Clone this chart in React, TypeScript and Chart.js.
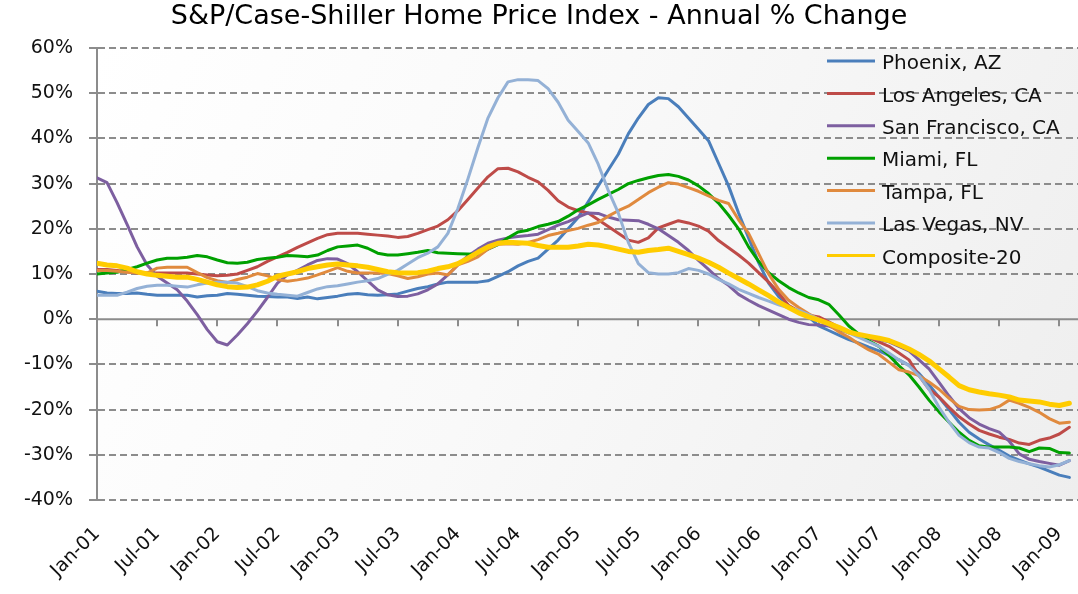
import React, { useEffect, useRef } from 'react';
import { Chart, registerables } from 'chart.js';

Chart.register(...registerables);

const monthNames = ['Jan', 'Feb', 'Mar', 'Apr', 'May', 'Jun', 'Jul', 'Aug', 'Sep', 'Oct', 'Nov', 'Dec'];
const yearCodes = ['01', '02', '03', '04', '05', '06', '07', '08', '09'];
// Monthly categories Jan-01 .. Feb-09
const categories: string[] = yearCodes.flatMap((y) => monthNames.map((m) => `${m}-${y}`)).slice(0, 98);

const tickLabels = [
  'Jan-01', 'Jul-01', 'Jan-02', 'Jul-02', 'Jan-03', 'Jul-03', 'Jan-04', 'Jul-04', 'Jan-05',
  'Jul-05', 'Jan-06', 'Jul-06', 'Jan-07', 'Jul-07', 'Jan-08', 'Jul-08', 'Jan-09',
];

const phoenix = [
  6.2, 5.8, 5.7, 5.7, 5.8, 5.5, 5.3, 5.3, 5.3, 5.3, 4.9, 5.2,
  5.3, 5.7, 5.5, 5.3, 5.1, 5.0, 4.9, 4.9, 4.6, 4.9, 4.5, 4.8,
  5.1, 5.5, 5.7, 5.4, 5.3, 5.4, 5.6, 6.2, 6.8, 7.2, 7.8, 8.2,
  8.2, 8.2, 8.2, 8.5, 9.5, 10.5, 11.8, 12.8, 13.5, 15.5, 17.5, 20.0,
  22.5, 26.0, 29.5, 33.0, 36.5, 41.0, 44.5, 47.5, 49.0, 48.8, 47.0, 44.5,
  42.0, 39.5, 34.5, 29.5, 23.5, 18.0, 12.5, 8.0, 5.0, 3.0, 1.5, 0.5,
  -1.5, -2.5, -3.5, -4.5, -5.3, -6.2, -7.0, -8.0, -9.0, -10.2, -12.0, -14.5,
  -17.3, -20.0, -22.8, -25.0, -26.5, -27.8, -29.0, -30.3, -31.2, -32.0, -32.7, -33.6,
  -34.5, -35.0,
];

const losAngeles = [
  11.0, 11.0, 10.8, 10.5, 10.2, 10.2, 10.2, 10.2, 10.2, 10.2, 10.0, 9.8,
  9.6, 9.7, 10.0, 10.8, 11.6, 12.8, 13.8, 14.8, 15.9, 16.9, 17.9, 18.7,
  19.0, 19.0, 19.0, 18.8, 18.6, 18.4, 18.1, 18.3, 19.0, 19.8, 20.6, 22.0,
  24.0, 26.5, 29.0, 31.5, 33.3, 33.4, 32.6, 31.4, 30.4, 28.5, 26.2, 24.8,
  24.0, 23.5, 22.0, 20.5, 19.0, 17.5, 17.0, 18.0, 20.2, 21.0, 21.8, 21.3,
  20.6, 19.5, 17.4, 15.8, 14.2, 12.4, 10.3, 8.2, 5.8, 3.0, 1.8, 0.9,
  0.5, -0.6, -1.8, -3.0, -3.6, -4.1, -5.0, -6.0, -7.5, -9.0, -12.5, -15.5,
  -17.2, -19.5, -21.6, -23.2, -24.6, -25.4, -26.1, -26.6, -27.4, -27.7, -26.8, -26.3,
  -25.4, -23.9,
];

const sanFrancisco = [
  31.3, 30.2, 25.8, 21.0, 16.0, 12.0, 9.5, 8.0, 6.5, 4.0, 1.0, -2.3,
  -5.0, -5.7, -3.5, -1.0, 1.8, 4.8, 8.0, 9.8, 10.8, 12.0, 13.0, 13.4,
  13.3, 12.3, 10.5, 8.5, 6.5, 5.4, 5.0, 5.1, 5.6, 6.5, 7.8, 9.8,
  12.0, 14.0, 15.5, 16.8, 17.5, 18.0, 18.3, 18.5, 18.8, 19.8, 20.8, 21.6,
  22.6, 23.5, 23.4, 22.6, 22.0, 21.9, 21.8, 21.0, 20.0, 18.5, 17.0, 15.2,
  13.0, 11.0, 9.0, 7.5, 5.5, 4.2, 3.0, 2.0, 1.0, 0.0, -0.7, -1.2,
  -1.3, -1.5, -2.3, -3.0, -3.5, -4.0, -4.5, -5.0, -6.0, -7.0, -9.0, -11.0,
  -14.0, -17.0, -19.8, -21.8, -23.2, -24.2, -25.0, -27.0, -29.8, -31.0, -31.5, -31.9,
  -32.3, -31.3,
];

const miami = [
  10.0, 10.2, 10.4, 11.0, 11.6, 12.4, 13.1, 13.5, 13.5, 13.7, 14.1, 13.8,
  13.1, 12.5, 12.4, 12.6, 13.2, 13.5, 13.7, 14.1, 14.0, 13.8, 14.2, 15.2,
  16.0, 16.2, 16.4, 15.7, 14.6, 14.2, 14.2, 14.5, 14.8, 15.2, 14.7, 14.6,
  14.5, 14.4, 14.3, 15.5, 16.5, 18.0, 19.3, 19.7, 20.5, 21.0, 21.6, 22.8,
  24.2, 25.3, 26.5, 27.6, 28.7, 30.0, 30.7, 31.3, 31.8, 32.0, 31.6, 30.8,
  29.5, 27.8, 25.7, 23.0, 20.0, 16.0, 12.8, 10.3, 8.5, 7.0, 5.8, 4.8,
  4.3, 3.3, 1.0, -1.5, -3.3, -4.8, -6.0, -8.0, -10.3, -12.3, -15.0, -17.9,
  -20.5, -22.8, -25.0, -26.8, -28.0, -28.3, -28.3, -28.3, -28.5, -29.3, -28.5, -28.6,
  -29.5, -29.6,
];

const tampa = [
  10.8, 10.8, 10.6, 10.4, 10.3, 10.2, 11.3, 11.5, 11.5, 11.5, 10.3, 9.2,
  8.5, 8.1, 8.8, 9.3, 10.1, 9.6, 8.8, 8.4, 8.7, 9.1, 9.8, 10.6,
  11.4, 10.6, 10.2, 10.2, 10.2, 10.1, 9.6, 9.0, 9.4, 10.0, 10.2, 9.8,
  12.0, 12.8, 13.8, 15.5, 16.6, 16.7, 16.6, 17.0, 17.6, 18.5, 19.0, 19.6,
  20.1, 20.8, 21.4, 22.8, 24.0, 25.0, 26.5, 28.0, 29.2, 30.2, 29.9, 29.1,
  28.3, 27.3, 26.3, 25.6, 22.0, 19.0, 14.5, 10.0, 6.6, 4.2, 2.6, 1.2,
  0.0, -1.3, -2.8, -4.0, -5.5, -6.8, -7.8, -9.5, -11.2, -11.7, -12.5, -13.9,
  -15.5, -17.5, -19.3, -20.0, -20.1, -20.0, -19.3, -17.9, -18.6, -19.5, -20.6, -22.0,
  -23.0, -22.8,
];

const lasVegas = [
  5.3, 5.3, 5.3, 6.0, 6.8, 7.3, 7.5, 7.5, 7.3, 7.1, 7.6, 8.0,
  8.2, 8.2, 8.0, 7.2, 6.3, 5.8, 5.5, 5.3, 5.1, 5.9, 6.7, 7.2,
  7.4, 7.8, 8.2, 8.5, 9.0, 9.9, 10.8, 12.2, 13.6, 14.6, 16.0, 19.0,
  24.5, 31.0, 38.0, 44.5, 49.0, 52.5, 53.0, 53.0, 52.8, 51.0, 48.0, 44.0,
  41.5, 39.0, 34.3, 28.5, 23.5, 17.0, 12.3, 10.3, 10.0, 10.0, 10.3, 11.2,
  10.8, 10.0, 8.8, 7.8, 6.6, 5.7, 4.8, 4.0, 3.2, 2.5, 2.0, 1.0,
  0.0, -1.0, -2.0, -3.0, -4.0, -5.0, -6.0, -7.5, -9.0, -10.3, -12.5, -15.5,
  -19.5, -22.8, -25.7, -27.3, -28.3, -28.5, -29.5, -30.8, -31.5, -32.0, -32.4, -32.7,
  -32.2, -31.3,
];

const composite20 = [
  12.4, 12.0, 11.8, 11.3, 10.5, 10.0, 9.7, 9.5, 9.3, 9.3, 8.8, 8.2,
  7.6, 7.2, 7.0, 7.1, 7.6, 8.4, 9.5, 10.0, 10.5, 11.2, 11.6, 12.0,
  12.2, 12.0, 11.8, 11.5, 11.0, 10.5, 10.3, 10.2, 10.3, 10.6, 11.2, 11.6,
  12.3, 13.5, 14.8, 16.0, 16.8, 17.0, 16.9, 16.8, 16.3, 15.9, 15.9, 15.9,
  16.2, 16.6, 16.4, 16.0, 15.5, 15.0, 14.8, 15.2, 15.4, 15.7, 15.0, 14.3,
  13.5, 12.6, 11.5, 10.2, 9.0, 7.8, 6.5, 5.2, 3.8, 2.6, 1.4, 0.5,
  -0.2, -1.0, -1.8, -2.8, -3.4, -3.8, -4.2, -4.7, -5.6, -6.6, -7.8, -9.2,
  -11.0, -12.8, -14.7, -15.6, -16.1, -16.5, -16.8, -17.2, -17.9, -18.1, -18.3, -18.8,
  -19.1, -18.6,
];

const seriesNames = [
  'Phoenix, AZ', 'Los Angeles, CA', 'San Francisco, CA', 'Miami, FL',
  'Tampa, FL', 'Las Vegas, NV', 'Composite-20',
];
const seriesValues = [phoenix, losAngeles, sanFrancisco, miami, tampa, lasVegas, composite20];
const seriesColors = ['#4a7ebb', '#be4b48', '#7d5fa0', '#00a000', '#e08a3e', '#94b1d6', '#ffcc00'];
const seriesWidths = [3, 3, 3, 3, 3, 3, 5];

const FONT = '"DejaVu Sans", sans-serif';
const GRID = '#8c8c8c';

const bgPlugin = {
  id: 'plotBg',
  beforeDraw(chart: any) {
    const { ctx, chartArea: a, width, height } = chart;
    ctx.save();
    ctx.fillStyle = '#ffffff';
    ctx.fillRect(0, 0, width, height);
    const g = ctx.createLinearGradient(a.left, a.top, a.right, a.bottom);
    g.addColorStop(0, '#ffffff');
    g.addColorStop(0.45, '#f9f9f9');
    g.addColorStop(1, '#eeeeee');
    ctx.fillStyle = g;
    ctx.fillRect(a.left, a.top, a.right - a.left, a.bottom - a.top);
    ctx.restore();
  },
};

const zeroAxisPlugin = {
  id: 'zeroAxis',
  beforeDatasetsDraw(chart: any) {
    const { ctx, chartArea: a, scales } = chart;
    const y = scales.y.getPixelForValue(0);
    ctx.save();
    ctx.strokeStyle = GRID;
    ctx.lineWidth = 2;
    ctx.beginPath();
    ctx.moveTo(a.left, y);
    ctx.lineTo(a.right, y);
    scales.x.ticks.forEach((t: any) => {
      const x = Math.round(scales.x.getPixelForValue(t.value));
      ctx.moveTo(x, y);
      ctx.lineTo(x, y + 7);
    });
    ctx.stroke();
    ctx.restore();
  },
};

const legendPlugin = {
  id: 'insideLegend',
  afterDraw(chart: any) {
    const { ctx, chartArea: a } = chart;
    const x0 = a.right - 251;
    const y0 = a.top + 16;
    ctx.save();
    ctx.font = `20px ${FONT}`;
    ctx.textBaseline = 'middle';
    ctx.textAlign = 'left';
    chart.data.datasets.forEach((ds: any, i: number) => {
      const y = y0 + i * 32.4;
      ctx.strokeStyle = ds.borderColor;
      ctx.lineWidth = 3;
      ctx.beginPath();
      ctx.moveTo(x0, y - 3);
      ctx.lineTo(x0 + 48, y - 3);
      ctx.stroke();
      ctx.fillStyle = '#111111';
      ctx.fillText(ds.label, x0 + 55, y);
    });
    ctx.restore();
  },
};

export default function App() {
  const ref = useRef<HTMLCanvasElement | null>(null);

  useEffect(() => {
    document.body.style.margin = '0';
    const canvas = ref.current;
    if (!canvas) return;
    const chart = new Chart(canvas, {
      type: 'line',
      data: {
        datasets: seriesNames.map((name, k) => ({
          label: name,
          data: seriesValues[k].map((v, i) => ({ x: i, y: v })),
          borderColor: seriesColors[k],
          backgroundColor: seriesColors[k],
          borderWidth: seriesWidths[k],
          pointRadius: 0,
          pointHoverRadius: 0,
          tension: 0,
          fill: false,
          borderCapStyle: 'round',
          borderJoinStyle: 'round',
          order: seriesNames.length - 1 - k,
        })),
      },
      options: {
        animation: false,
        responsive: false,
        devicePixelRatio: 1,
        events: [],
        layout: { padding: 0 },
        plugins: {
          legend: { display: false },
          tooltip: { enabled: false },
          title: {
            display: true,
            text: 'S&P/Case-Shiller Home Price Index - Annual % Change',
            color: '#000000',
            font: { family: FONT, size: 27, weight: 'normal' },
            padding: { top: 1, bottom: 14.6 },
          },
        },
        scales: {
          x: {
            type: 'linear',
            min: 0,
            max: 97.86,
            afterBuildTicks: (scale: any) => {
              scale.ticks = tickLabels.map((l) => ({ value: categories.indexOf(l) }));
            },
            afterFit: (scale: any) => {
              scale.height = 94;
              scale.paddingLeft = 0;
              scale.paddingRight = 0;
            },
            ticks: {
              autoSkip: false,
              minRotation: 45,
              maxRotation: 45,
              padding: 15,
              color: '#111111',
              font: { family: FONT, size: 19 },
              callback: (v: any) => categories[Number(v)] ?? '',
            },
            grid: { display: false },
            border: { display: false },
          },
          y: {
            min: -40,
            max: 60,
            afterFit: (scale: any) => {
              scale.width = 97;
            },
            ticks: {
              stepSize: 10,
              padding: 16,
              color: '#111111',
              font: { family: FONT, size: 19 },
              callback: (v: any) => `${v}%`,
            },
            grid: {
              color: (c: any) => (c.tick && c.tick.value === 0 ? 'rgba(0,0,0,0)' : GRID),
              lineWidth: 2,
              drawTicks: true,
              tickLength: 8,
              tickColor: GRID,
              tickWidth: 2,
              tickBorderDash: [],
            },
            border: { display: true, color: GRID, width: 2, dash: [7, 4] },
          },
        },
      },
      plugins: [bgPlugin, zeroAxisPlugin, legendPlugin],
    } as any);
    return () => chart.destroy();
  }, []);

  return (
    <div style={{ width: 1078, height: 594 }}>
      <canvas ref={ref} width={1078} height={594} style={{ display: 'block' }} />
    </div>
  );
}
